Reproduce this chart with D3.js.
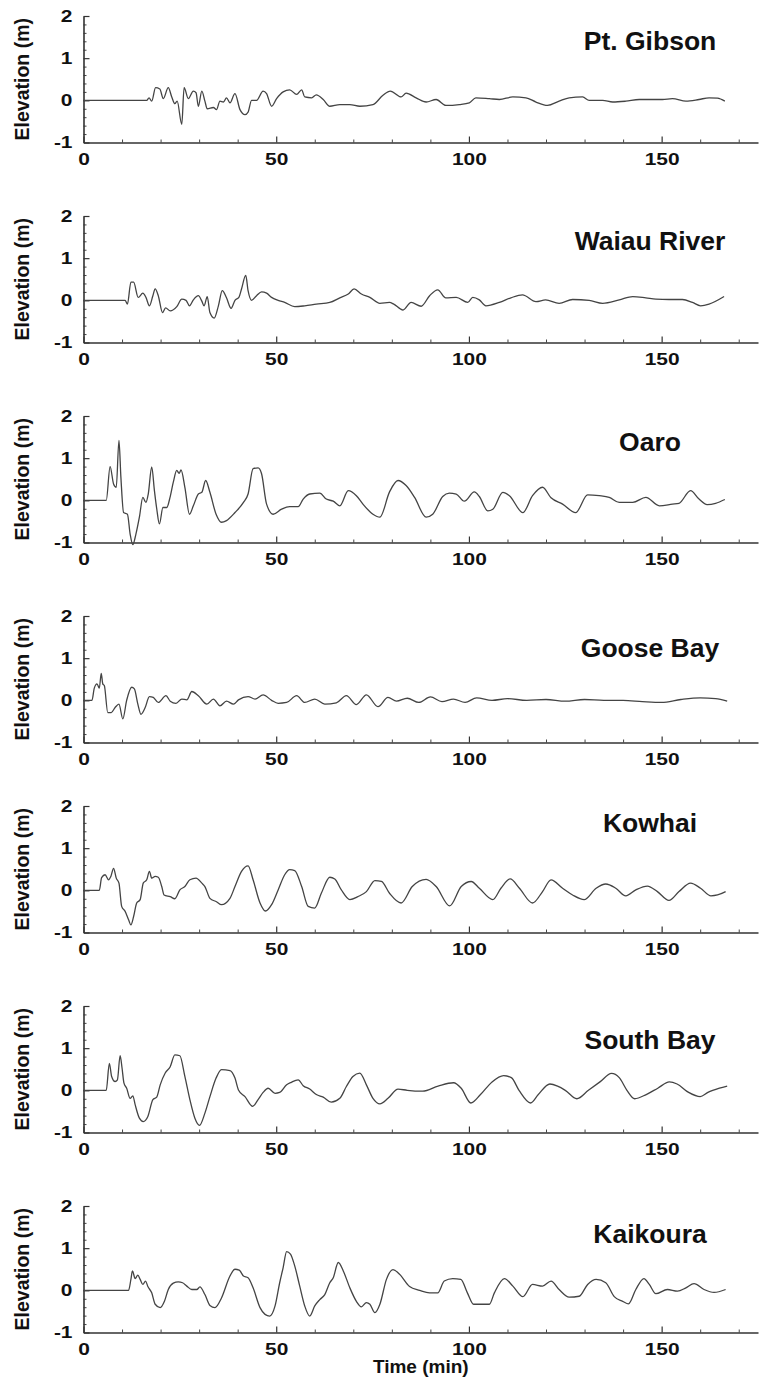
<!DOCTYPE html>
<html><head><meta charset="utf-8">
<script src="https://cdn.jsdelivr.net/npm/d3@7"></script>
<style>body{margin:0;background:#fff}svg{display:block}text{font-family:"Liberation Sans",Arial,Helvetica,sans-serif;font-weight:bold;fill:#111}</style>
</head><body><svg id="c" width="766" height="1378"></svg>
<script>
// ---------------- DATA ----------------
const stations = ["Pt. Gibson","Waiau River","Oaro","Goose Bay","Kowhai","South Bay","Kaikoura"];
const xTicks = [0,50,100,150];
const yTicks = [-1,0,1,2];
const xLabel = "Time (min)";
const yLabel = "Elevation (m)";

// [time (min), elevation (m)]
const ptGibson = [[0,0],[16.4,0],[17,0.06],[17.7,-0.02],[18.7,0.3],[19.8,0.27],[20.7,0.04],[22,0.3],[22.9,0.08],[23.7,-0.08],[24.3,-0.02],[25.5,-0.57],[26.1,0.3],[27.2,0.04],[28.5,0.22],[29.2,0.18],[29.8,-0.14],[30.7,0.22],[31.5,-0.02],[32.1,-0.2],[33.7,-0.17],[34.5,-0.22],[35.4,-0.02],[36.3,-0.04],[37.1,0.06],[38,-0.06],[39.3,0.16],[40.6,-0.22],[41.9,-0.34],[42.7,-0.28],[43.6,0],[44.9,0],[46.6,0.22],[47.5,0.16],[48.8,-0.14],[50.1,0.04],[51.8,0.2],[53.5,0.25],[55.3,0.14],[56.6,0.25],[57.4,0.08],[59.2,0.06],[60.4,0.13],[62.2,0.02],[63.9,-0.14],[66.5,-0.1],[69.1,-0.1],[71.7,-0.14],[75.1,-0.1],[77.7,0.12],[79.6,0.22],[82.4,0.08],[83.7,0.17],[86.3,0.06],[88.9,-0.04],[91.5,0.02],[94,-0.12],[97.5,-0.1],[100.1,-0.06],[101.8,0.06],[105.3,0.04],[107.9,0.02],[111.4,0.08],[114.8,0.06],[117.4,-0.04],[120.4,-0.12],[123.4,-0.02],[126,0.06],[129.5,0.08],[131.2,0],[134.7,0],[137.3,-0.04],[140.7,-0.02],[144.2,0.02],[147.6,0.02],[150.2,0.02],[152.8,0.04],[156.3,-0.02],[159.7,0.02],[162.3,0.06],[164.5,0.05],[166.4,-0.02]];

const waiauRiver = [[0,0],[10.8,0],[11.4,-0.09],[12.3,0.43],[13,0.43],[14.2,0.07],[15.4,0.17],[16.2,0.07],[17.1,-0.13],[18,0.11],[18.6,0.27],[19.4,0.11],[20.5,-0.29],[21.3,-0.18],[22.5,-0.25],[24.2,-0.15],[25.5,0.03],[26.6,0],[27.5,-0.13],[28.5,0.01],[29.8,0.11],[30.7,-0.02],[31.3,-0.13],[32.1,0.09],[32.8,-0.29],[33.9,-0.42],[35,-0.13],[36,0.23],[37.1,0.06],[38.3,-0.19],[39.3,0],[40.3,0.07],[41,0.27],[42.1,0.59],[42.7,0.23],[43.6,0],[44.9,0.11],[46.2,0.2],[47.5,0.17],[48.8,0.07],[50.5,0],[52.2,-0.05],[54.8,-0.15],[57.4,-0.13],[60.4,-0.09],[63.9,-0.05],[66.5,0.06],[68.7,0.15],[70.2,0.27],[72.1,0.15],[74.3,0.07],[76.9,-0.07],[79.4,-0.05],[80.5,-0.09],[82.9,-0.23],[85,-0.05],[87.6,-0.14],[89.8,0.11],[91.9,0.25],[94,0.06],[96.7,0.07],[99.7,-0.05],[101,0.07],[102.7,0.01],[104.4,-0.13],[107.9,-0.05],[110.9,0.06],[113.9,0.13],[117.4,-0.03],[119.9,0.01],[123.4,-0.07],[126.9,0.02],[131.2,0],[134.7,-0.07],[139,0.01],[142.5,0.09],[145.9,0.06],[148.5,0.03],[151.9,0.02],[155.4,0.02],[158,-0.05],[160.1,-0.13],[162.3,-0.09],[166.2,0.09]];

const oaro = [[0,0],[5.9,0],[6.9,0.8],[7.8,0.39],[8.5,0.31],[9.2,1.42],[9.7,0.55],[10.4,-0.29],[11.4,-0.33],[12.1,-0.8],[12.8,-1.05],[13.6,-0.8],[14.5,-0.4],[15.4,0.07],[16.2,-0.05],[16.8,0.15],[17.7,0.79],[18.4,0.23],[19,-0.2],[19.7,-0.56],[20.6,-0.17],[21.6,-0.17],[22.5,0.09],[23.3,0.43],[24.2,0.71],[24.8,0.64],[25.3,0.72],[26.3,0.31],[27.5,-0.33],[28.5,-0.13],[29.8,0.15],[30.7,0.19],[31.7,0.47],[32.8,0.19],[34.4,-0.33],[35.8,-0.52],[37.1,-0.48],[39.3,-0.29],[41.5,-0.05],[42.7,0.15],[44,0.75],[45.3,0.77],[46.2,0.63],[47.5,-0.09],[49.2,-0.33],[51.4,-0.21],[53.5,-0.15],[55.7,-0.15],[57,0.03],[58.7,0.15],[61.3,0.17],[63,0.03],[64.8,-0.02],[66.5,-0.13],[68.7,0.23],[70.8,0.11],[72.5,-0.09],[75.1,-0.33],[76.9,-0.4],[79.4,0.2],[81.6,0.47],[83.7,0.35],[85.9,0.07],[88.9,-0.4],[90.6,-0.33],[93.2,0.09],[94.9,0.17],[96.7,0.15],[98.8,-0.02],[101.4,0.2],[102.7,0.09],[104.9,-0.25],[106.2,-0.21],[108.8,0.19],[110.5,0.11],[114,-0.29],[116.5,0.11],[119.1,0.31],[121.3,0.06],[124.3,-0.09],[127.7,-0.29],[130.8,0.13],[133.8,0.11],[136.4,0.07],[139,-0.05],[142.5,-0.05],[145.9,0.07],[149.4,-0.13],[152.8,-0.09],[154.5,-0.07],[157.5,0.23],[159.7,0.03],[161.8,-0.1],[164,-0.07],[166.4,0.02]];

const gooseBay = [[0,0],[2.2,0],[2.8,0.29],[3.5,0.39],[4.1,0.29],[4.6,0.64],[5,0.39],[5.4,0.35],[6.3,-0.29],[7.2,-0.29],[8.2,-0.17],[9.2,-0.09],[10.2,-0.44],[11.2,0],[12.5,0.31],[13.2,0.27],[14.1,-0.09],[14.9,-0.33],[16,-0.17],[17.1,0.09],[18.1,0.07],[19.4,-0.05],[21.4,0.11],[22.5,-0.02],[24,-0.07],[25.5,0.03],[26.8,0.01],[28.1,0.21],[29.8,0.11],[32,-0.09],[33.7,0.03],[35.4,-0.13],[37.1,-0.02],[38.9,-0.09],[40.2,0.01],[42.7,0.09],[44.5,0.03],[46.6,0.13],[48.8,0],[50.5,-0.07],[52.7,-0.05],[55.3,0.11],[57.4,-0.05],[60,0.03],[62.6,-0.09],[65.6,-0.06],[68.2,0.11],[70.8,-0.1],[73.4,0.13],[76.4,-0.15],[79,0.07],[81.2,-0.02],[84,0.05],[87,-0.05],[90,0.08],[93,-0.03],[96,0.03],[99,-0.05],[102,0.06],[106,0],[110,0.04],[115,0],[120,0.02],[125,-0.02],[130,0.02],[135,0],[140,0],[145,-0.03],[150,-0.05],[155,0.02],[160,0.06],[164,0.04],[167,-0.02]];

const kowhai = [[0,0],[4.1,0],[4.7,0.3],[5.6,0.37],[6.5,0.25],[7.1,0.33],[7.8,0.52],[8.5,0.29],[9.2,0.17],[9.9,-0.38],[10.8,-0.5],[11.7,-0.7],[12.3,-0.82],[13,-0.62],[13.8,-0.3],[14.7,-0.22],[15.5,0.17],[16.4,0.25],[17.1,0.45],[17.7,0.29],[18.6,0.33],[19.4,0.31],[20.3,0.09],[20.9,-0.11],[22.5,-0.15],[23.7,-0.2],[25,0.01],[26.3,0.09],[27.6,0.25],[29.2,0.29],[30.7,0.17],[31.5,0.09],[32.8,-0.19],[34.5,-0.27],[35.8,-0.34],[38,-0.19],[39.3,0.09],[41,0.45],[42.7,0.58],[44,0.25],[45.8,-0.3],[47.2,-0.49],[48.8,-0.34],[50.5,0.01],[52.2,0.37],[53.5,0.49],[54.8,0.47],[56.6,0.09],[58.3,-0.38],[60,-0.42],[61.7,-0.07],[63.9,0.31],[65.2,0.27],[66.9,0.01],[69.1,-0.22],[71.2,-0.15],[73.4,-0.03],[75.6,0.23],[77.3,0.21],[79.4,-0.07],[82.4,-0.3],[85.3,0.09],[88.9,0.26],[91.5,0.09],[95,-0.37],[98,0.09],[100.6,0.21],[102.7,0.05],[106.2,-0.22],[108.3,0.05],[110.7,0.27],[113.1,0.05],[116.5,-0.3],[119.1,-0.03],[121.3,0.25],[124.3,0.05],[126.9,-0.11],[129.9,-0.22],[133,0.05],[135.5,0.15],[138.1,0.05],[140.7,-0.13],[143.3,0.01],[146.3,0.1],[148.9,-0.03],[151.9,-0.24],[154.5,-0.03],[157.5,0.17],[160.1,0.05],[162.8,-0.13],[164.5,-0.11],[166.6,-0.03]];

const southBay = [[0,0],[5.9,0],[6.7,0.64],[7.3,0.33],[8.2,0.21],[8.8,0.25],[9.5,0.82],[10,0.53],[10.5,0.17],[11.2,0.05],[12.1,-0.19],[12.8,-0.13],[13.4,-0.34],[14.5,-0.66],[15.5,-0.74],[16.7,-0.62],[18,-0.22],[19,-0.16],[19.9,0.13],[21.2,0.41],[22.5,0.56],[23.7,0.84],[25,0.82],[26.3,0.33],[27.6,-0.22],[28.9,-0.66],[30.1,-0.83],[31.5,-0.54],[32.8,-0.15],[34.4,0.29],[35.8,0.49],[38,0.47],[39.3,0.29],[40.2,0.01],[41.9,-0.15],[43.9,-0.38],[45.3,-0.22],[46.6,-0.05],[47.9,0.05],[49.7,-0.07],[50.9,-0.05],[52.7,0.13],[53.9,0.19],[55.7,0.25],[57,0.11],[58.7,0.03],[60.4,-0.1],[62.2,-0.16],[64.3,-0.28],[66.5,-0.19],[68.2,0.09],[69.9,0.33],[71.7,0.41],[73.4,0.13],[75.1,-0.19],[76.9,-0.32],[79,-0.19],[81.6,0.03],[84,0],[88,-0.02],[92,0.1],[96,0.18],[98,0.05],[100.5,-0.3],[103,-0.1],[106,0.2],[109,0.35],[111,0.3],[113,0],[116,-0.3],[118,-0.1],[121,0.15],[123,0.1],[125,0],[128,-0.2],[131,0],[134,0.2],[137,0.4],[139,0.3],[141,0],[143,-0.2],[146,-0.1],[149,0.05],[152,0.2],[154,0.15],[157,-0.05],[160,-0.15],[162,-0.05],[165,0.05],[167,0.1]];

const kaikoura = [[0,0],[11.7,0],[12.3,0.26],[12.7,0.46],[13.4,0.28],[14.1,0.36],[14.7,0.26],[15.4,0.14],[16.1,0.22],[16.7,0.09],[17.7,-0.06],[18.6,-0.33],[19.9,-0.41],[21,-0.26],[22,0.02],[23.3,0.17],[24.6,0.2],[25.7,0.18],[26.8,0.1],[28.1,0.02],[29.4,0.02],[30.2,0.08],[31.5,-0.1],[32.8,-0.36],[34.1,-0.41],[35.8,-0.18],[38,0.34],[39.3,0.5],[40.4,0.48],[41.5,0.34],[42.7,0.3],[44,0.06],[45.8,-0.41],[47.1,-0.57],[48.3,-0.61],[49.7,-0.37],[50.9,0.18],[51.8,0.54],[52.7,0.92],[53.7,0.86],[54.8,0.58],[56.1,0.1],[57.4,-0.37],[58.7,-0.61],[60,-0.37],[61.3,-0.22],[62.6,-0.1],[63.9,0.18],[64.8,0.3],[66.1,0.66],[67.4,0.46],[69.1,0.06],[70.8,-0.26],[72.1,-0.39],[73.4,-0.29],[74.3,-0.33],[75.6,-0.53],[76.9,-0.33],[78.6,0.26],[80.3,0.49],[82,0.38],[84.6,0.09],[87.2,0],[89.8,-0.06],[91.9,-0.06],[93.6,0.22],[95.8,0.28],[97.9,0.26],[99.6,-0.06],[101.2,-0.33],[103.6,-0.33],[105.3,-0.33],[106.6,-0.06],[109.2,0.28],[111.4,0.1],[114,-0.15],[116.5,0.14],[119.1,0.1],[121.3,0.22],[123.4,0.02],[126,-0.16],[128.6,-0.14],[130.8,0.14],[133,0.26],[135.5,0.18],[137.7,-0.15],[139.9,-0.26],[141.4,-0.32],[143.3,0.02],[145.4,0.28],[146.8,0.14],[148.5,-0.08],[151.5,0.02],[154.1,-0.02],[156.3,0.06],[158.4,0.16],[161,0.02],[163.6,-0.05],[166.6,0.02]];

const seriesList = [ptGibson, waiauRiver, oaro, gooseBay, kowhai, southBay, kaikoura];

// ---------------- LAYOUT ----------------
const panelTops = [16, 216, 416, 616, 806, 1006, 1206];
const titleBaselines = [50, 250, 451, 657, 832, 1049, 1243];
const panelH = 126.5;
const stretch = 1.27;

const svg = d3.select("#c");
const x = d3.scaleLinear().domain([0, 175]).range([83.5, 758]);
const y = d3.scaleLinear().domain([-1, 2]).range([panelH, 0]);
const line = d3.line().curve(d3.curveMonotoneX).x(d => x(d[0])).y(d => y(d[1]));

const xMinor = d3.range(10, 171, 10).filter(v => v % 50 !== 0);
const yMinor = d3.range(-0.8, 2, 0.2).map(v => +v.toFixed(1)).filter(v => Math.abs(v - Math.round(v)) > 1e-6);

seriesList.forEach((data, i) => {
  const g = svg.append("g").attr("transform", `translate(0,${panelTops[i]})`);

  // minor ticks
  g.append("g").attr("transform", `translate(0,${panelH})`)
    .call(d3.axisBottom(x).tickValues(xMinor).tickSize(-3).tickFormat(""))
    .call(s => s.select(".domain").remove())
    .call(s => s.selectAll("line").attr("stroke", "#444").attr("stroke-width", 1));
  g.append("g").attr("transform", `translate(${x(0)},0)`)
    .call(d3.axisLeft(y).tickValues(yMinor).tickSize(-3).tickFormat(""))
    .call(s => s.select(".domain").remove())
    .call(s => s.selectAll("line").attr("stroke", "#444").attr("stroke-width", 1));

  // major x axis
  const gx = g.append("g").attr("transform", `translate(0,${panelH})`)
    .call(d3.axisBottom(x).tickValues(xTicks).tickSizeInner(-6).tickSizeOuter(0).tickPadding(10.5).tickFormat(d => String(d)));
  gx.select(".domain").attr("stroke", "#333").attr("stroke-width", 1.6);
  gx.selectAll("line").attr("stroke", "#333").attr("stroke-width", 1.2);
  gx.selectAll("text").attr("font-size", 16.5).attr("fill", "#111")
    .attr("font-family", "'Liberation Sans', Arial, sans-serif").attr("font-weight", "bold")
    .attr("transform", `scale(${stretch},1)`);

  // major y axis
  const gy = g.append("g").attr("transform", `translate(${x(0)},0)`)
    .call(d3.axisLeft(y).tickValues(yTicks).tickSizeInner(-6).tickSizeOuter(0).tickPadding(11).tickFormat(d => String(d)));
  gy.select(".domain").attr("stroke", "#333").attr("stroke-width", 1.6);
  gy.selectAll("line").attr("stroke", "#333").attr("stroke-width", 1.2);
  gy.selectAll("text").attr("font-size", 16.5).attr("fill", "#111")
    .attr("font-family", "'Liberation Sans', Arial, sans-serif").attr("font-weight", "bold")
    .attr("x", -11 / stretch).attr("transform", `scale(${stretch},1)`);

  // data line
  g.append("path").datum(data).attr("d", line)
    .attr("fill", "none").attr("stroke", "#444").attr("stroke-width", 1.3)
    .attr("stroke-linejoin", "round");

  // y label
  g.append("text")
    .attr("transform", `translate(29,${panelH / 2}) rotate(-90)`)
    .attr("text-anchor", "middle").attr("font-size", 19.5)
    .text(yLabel);

  // station title
  svg.append("text").attr("x", 650).attr("y", titleBaselines[i])
    .attr("text-anchor", "middle").attr("font-size", 26.5)
    .text(stations[i]);
});

// x label
svg.append("text").attr("x", (x(0) + x(175)) / 2).attr("y", 1373)
  .attr("text-anchor", "middle").attr("font-size", 19)
  .text(xLabel);
</script>
</body></html>
